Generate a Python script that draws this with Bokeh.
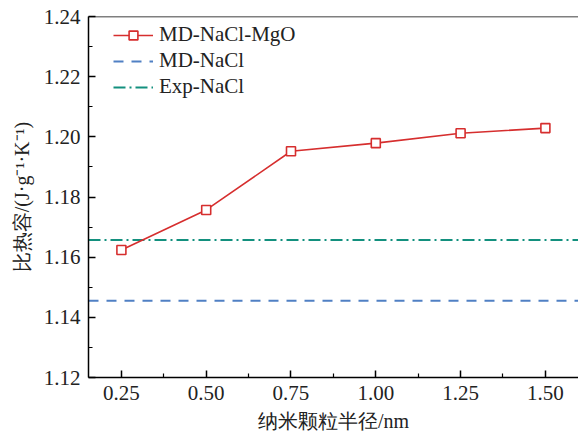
from bokeh.plotting import figure
from bokeh.models import Range1d, Legend, LegendItem, FixedTicker, Span
from bokeh.embed import file_html
from bokeh.resources import INLINE

radius = [0.25, 0.50, 0.75, 1.00, 1.25, 1.50]
md_nacl_mgo = [1.1624, 1.1757, 1.1952, 1.1979, 1.2012, 1.2029]
md_nacl = 1.1455
exp_nacl = 1.1657
x_ticks = [0.25, 0.50, 0.75, 1.00, 1.25, 1.50]
y_ticks = [1.12, 1.14, 1.16, 1.18, 1.20, 1.22, 1.24]

SERIF = "Liberation Serif"

p = figure(width=578, height=443, output_backend="svg", toolbar_location=None,
           x_range=Range1d(0.153, 1.5976), y_range=Range1d(1.12, 1.24),
           min_border_left=88, min_border_right=0, min_border_top=16, min_border_bottom=66)
p.grid.visible = False
p.outline_line_color = None
p.background_fill_color = "white"

top = Span(location=1.24, dimension="width", line_color="black", line_width=1.5)
p.add_layout(top)

red = "#d62e2e"
blue = "#5080c4"
green = "#13907e"

xs_line = [0.153, 1.5976]
r_blue = p.line(xs_line, [md_nacl, md_nacl], line_color=blue, line_width=2, line_dash="10 8")
r_green = p.line(xs_line, [exp_nacl, exp_nacl], line_color=green, line_width=2, line_dash="12 4 2 4")
r_red = p.line(radius, md_nacl_mgo, line_color=red, line_width=1.6)
r_sq = p.scatter(radius, md_nacl_mgo, marker="square", size=9, line_color=red,
                 fill_color="white", line_width=1.6)

for ax in (p.xaxis[0], p.yaxis[0]):
    ax.axis_line_width = 1.5
    ax.major_tick_line_width = 1.5
    ax.minor_tick_line_width = 1.2
    ax.major_tick_in = 7
    ax.major_tick_out = 0
    ax.minor_tick_in = 4
    ax.minor_tick_out = 0
    ax.major_label_text_font = SERIF
    ax.major_label_text_font_size = "21px"
    ax.major_label_text_color = "#222222"
    ax.axis_label_text_font = SERIF
    ax.axis_label_text_font_size = "20px"
    ax.axis_label_text_font_style = "normal"
    ax.axis_label_text_color = "#222222"

p.xaxis[0].ticker = FixedTicker(ticks=x_ticks, minor_ticks=[0.375, 0.625, 0.875, 1.125, 1.375])
p.yaxis[0].ticker = FixedTicker(ticks=y_ticks, minor_ticks=[1.13, 1.15, 1.17, 1.19, 1.21, 1.23])
p.xaxis[0].major_label_overrides = {t: f"{t:.2f}" for t in x_ticks}
p.yaxis[0].major_label_overrides = {t: f"{t:.2f}" for t in y_ticks}
p.xaxis[0].major_label_standoff = 8
p.yaxis[0].major_label_standoff = 8
p.xaxis[0].axis_label = "纳米颗粒半径/nm"
p.yaxis[0].axis_label = "比热容/(J·g⁻¹·K⁻¹)"
p.xaxis[0].axis_label_standoff = 7
p.yaxis[0].axis_label_standoff = 8

legend = Legend(items=[
    LegendItem(label="MD-NaCl-MgO", renderers=[r_red, r_sq]),
    LegendItem(label="MD-NaCl", renderers=[r_blue]),
    LegendItem(label="Exp-NaCl", renderers=[r_green]),
], location=(25, 278))
legend.border_line_color = None
legend.background_fill_alpha = 0
legend.label_text_font = SERIF
legend.label_text_font_size = "21px"
legend.label_text_color = "#222222"
legend.glyph_width = 40
legend.glyph_height = 22
legend.label_height = 22
legend.spacing = 1
legend.margin = 0
legend.padding = 0
legend.label_standoff = 6
p.add_layout(legend)

open("out.html", "w").write(file_html(p, INLINE))
